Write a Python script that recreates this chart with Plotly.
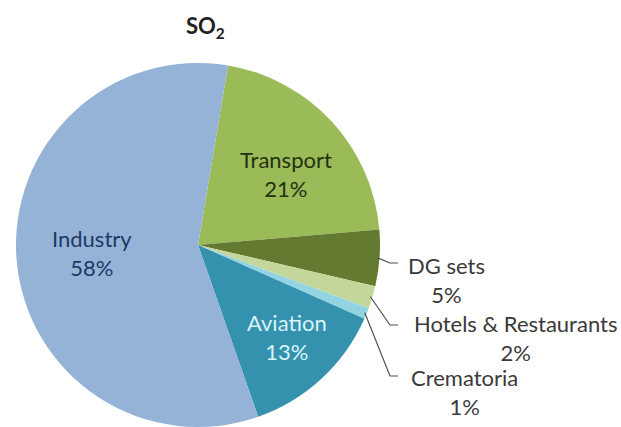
import math
import plotly.graph_objects as go

# Sector shares of SO2 emissions (%)
sectors = ["Transport", "DG sets", "Hotels & Restaurants", "Crematoria", "Aviation", "Industry"]
shares = [21, 5, 2, 1, 13, 58]

colors = ["#9BBB59", "#637A30", "#C4D79B", "#93D3E2", "#3592AE", "#95B3D7"]

W, H = 621, 427
CX, CY, R = 198, 245, 182   # pie centre and radius in pixels
ROTATION = 9.5              # degrees clockwise from 12 o'clock

FONT = "Lato"
FS = 22


def px(x):
    return x / W


def py(y):
    return 1 - y / H


fig = go.Figure(
    go.Pie(
        labels=sectors,
        values=shares,
        sort=False,
        direction="clockwise",
        rotation=ROTATION,
        marker=dict(colors=colors, line=dict(width=0)),
        textinfo="none",
        hoverinfo="label+percent",
        showlegend=False,
        domain=dict(x=[px(CX - R), px(CX + R)], y=[py(CY + R), py(CY - R)]),
    )
)

# mid angle of each slice, clockwise from 12 o'clock
total = sum(shares)
mid_angle = {}
acc = 0.0
for name, v in zip(sectors, shares):
    mid_angle[name] = ROTATION + (acc + v / 2) / total * 360
    acc += v


def pct(name):
    return f"{shares[sectors.index(name)]}%"


# labels drawn inside the large slices: (name, x, y, colour)
inside_labels = [
    ("Industry", 92, 253, "#1B3A66"),
    ("Transport", 286, 174, "#22320F"),
    ("Aviation", 287, 337, "#D8F4FA"),
]
for name, x, y, c in inside_labels:
    fig.add_annotation(
        x=px(x), y=py(y), xref="paper", yref="paper",
        text=f"{name}<br>{pct(name)}", showarrow=False,
        xanchor="center", yanchor="middle",
        font=dict(family=FONT, size=FS, color=c),
    )

# labels for the thin slices, with leader lines: (name, label centre x, block centre y, line y)
outside_labels = [
    ("DG sets", 446, 280, 263),
    ("Hotels & Restaurants", 515, 338, 325),
    ("Crematoria", 464, 392, 376),
]
for name, x, y, ly in outside_labels:
    fig.add_annotation(
        x=px(x), y=py(y), xref="paper", yref="paper",
        text=f"{name}<br>{pct(name)}", showarrow=False,
        xanchor="center", yanchor="middle",
        font=dict(family=FONT, size=FS, color="#3A3A3A"),
    )
    a = math.radians(mid_angle[name])
    x0 = CX + (R - 2) * math.sin(a)
    y0 = CY - (R - 2) * math.cos(a)
    x1 = max(x0 + 2, 390)
    path = f"M {px(x0)},{py(y0)} L {px(x1)},{py(ly)} L {px(398)},{py(ly)}"
    fig.add_shape(
        type="path", path=path, xref="paper", yref="paper",
        line=dict(color="#505050", width=1.2),
    )

fig.add_annotation(
    x=px(206), y=py(27), xref="paper", yref="paper",
    text="<b>SO<sub>2</sub></b>", showarrow=False,
    xanchor="center", yanchor="middle",
    font=dict(family=FONT, size=22, color="#222222"),
)

fig.update_layout(
    width=W, height=H,
    margin=dict(l=0, r=0, t=0, b=0),
    paper_bgcolor="white",
    plot_bgcolor="white",
)

fig.write_html("out.html")
